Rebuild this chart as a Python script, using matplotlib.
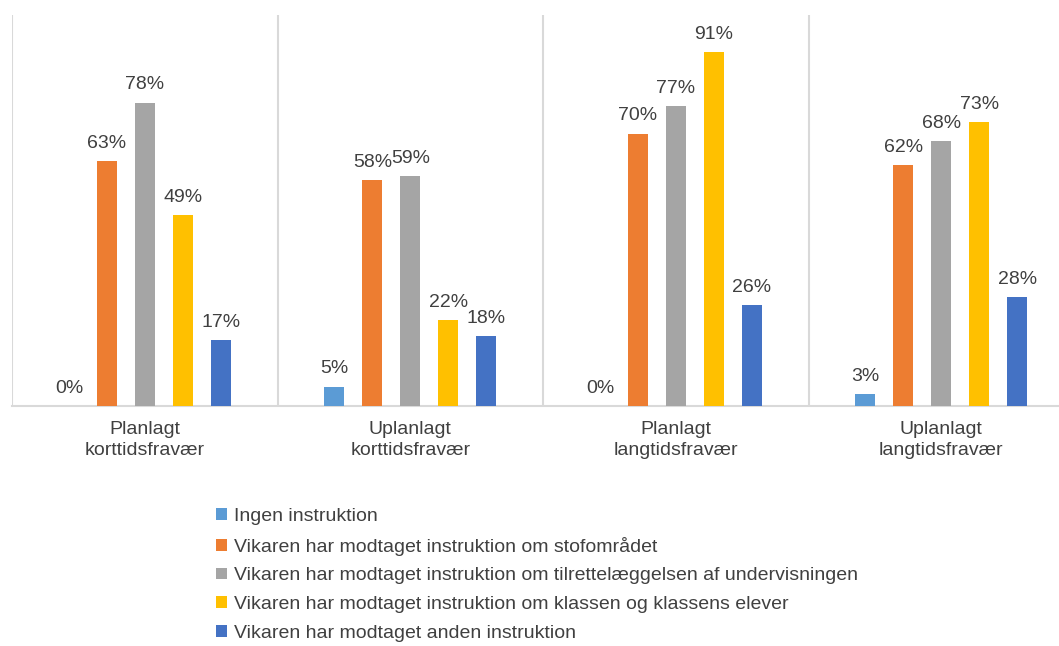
import matplotlib
matplotlib.use("Agg")
import matplotlib.pyplot as plt
import numpy as np

plt.rcParams['font.family'] = ['Liberation Sans', 'DejaVu Sans']

categories = ["Planlagt\nkorttidsfravær", "Uplanlagt\nkorttidsfravær",
              "Planlagt\nlangtidsfravær", "Uplanlagt\nlangtidsfravær"]
series_names = [
    "Ingen instruktion",
    "Vikaren har modtaget instruktion om stofområdet",
    "Vikaren har modtaget instruktion om tilrettelæggelsen af undervisningen",
    "Vikaren har modtaget instruktion om klassen og klassens elever",
    "Vikaren har modtaget anden instruktion",
]
ingen = [0, 5, 0, 3]
stof = [63, 58, 70, 62]
tilrette = [78, 59, 77, 68]
klassen = [49, 22, 91, 73]
anden = [17, 18, 26, 28]
values = [ingen, stof, tilrette, klassen, anden]
colors = ["#5B9BD5", "#ED7D31", "#A5A5A5", "#FFC000", "#4472C4"]

W, H = 1059, 646
fig = plt.figure(figsize=(W / 100, H / 100), dpi=100)
left, right, top, bottom = 12, 1074, 15, 406
ax = fig.add_axes([left / W, 1 - bottom / H, (right - left) / W, (bottom - top) / H])

x = np.arange(len(categories))
step = 38 / 266
bw = 20 / 266
for i, (vals, c, name) in enumerate(zip(values, colors, series_names)):
    pos = x + (i - 2) * step
    ax.bar(pos, vals, width=bw, color=c, label=name, zorder=3)
    for p, v in zip(pos, vals):
        ax.annotate(f"{v}%", (p, v), xytext=(0, 9.5), textcoords="offset points",
                    ha="center", va="baseline", fontsize=14, color="#404040")

ax.set_xlim(-0.5, len(categories) - 0.5)
ax.set_ylim(0, 100.5)
for s in ["top", "right", "left"]:
    ax.spines[s].set_visible(False)
ax.spines["bottom"].set_color("#D9D9D9")
ax.spines["bottom"].set_linewidth(1.5)
for xv in np.arange(-0.5, len(categories) - 0.5, 1.0):
    ax.axvline(xv, color="#D9D9D9", lw=1.5, zorder=1)
ax.set_yticks([])
ax.set_xticks(x)
ax.set_xticklabels(categories, fontsize=14, color="#404040", linespacing=1.25)
ax.tick_params(axis="x", length=0, pad=11)

leg = fig.legend(loc="upper left", bbox_to_anchor=(216 / W, 1 - 508 / H), frameon=False,
                 fontsize=14, handlelength=0.55, handleheight=0.55, handletextpad=0.35,
                 labelspacing=0.6, borderpad=0, borderaxespad=0)
for t in leg.get_texts():
    t.set_color("#404040")

fig.savefig("out.png", dpi=100)
